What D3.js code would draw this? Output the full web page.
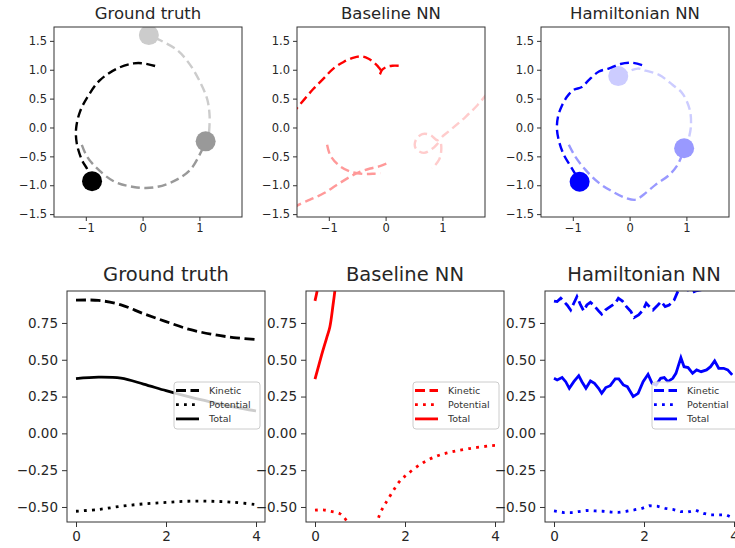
<!DOCTYPE html>
<html>
<head>
<meta charset="utf-8">
<script src="https://cdn.jsdelivr.net/npm/d3@7"></script>
<style>
  body { margin: 0; background: #fff; }
  svg { display: block; font-family: "DejaVu Sans", sans-serif; }
</style>
</head>
<body>
<svg width="735" height="548"></svg>
<script>
var panelTitles = ["Ground truth", "Baseline NN", "Hamiltonian NN"];
var legendLabels = ["Kinetic", "Potential", "Total"];
var orbitYTicks = [-1.5, -1, -0.5, 0, 0.5, 1, 1.5];
var orbitXTicks = [-1, 0, 1];
var energyYTicks = [-0.5, -0.25, 0, 0.25, 0.5, 0.75];
var energyXTicks = [0, 2, 4];

// top row: body trails [x, y], darkest body first
var gtTrailDark = [[0.22,1.065],[0.02,1.11],[-0.16,1.11],[-0.45,1.02],[-0.75,0.82],[-0.95,0.56],[-1.10,0.28],[-1.17,-0.01],[-1.16,-0.27],[-1.07,-0.56],[-0.97,-0.73],[-0.89,-0.93]];
var gtTrailMid = [[-1.07,-0.30],[-0.98,-0.50],[-0.81,-0.70],[-0.51,-0.93],[-0.16,-1.03],[0.19,-1.04],[0.55,-0.93],[0.84,-0.73],[1.02,-0.44],[1.11,-0.24]];
var gtTrailLight = [[1.17,-0.08],[1.18,0.19],[1.14,0.48],[1.02,0.77],[0.84,1.08],[0.61,1.34],[0.31,1.51],[0.11,1.60]];
var gtBodies = [[-0.89,-0.93],[1.11,-0.24],[0.11,1.60]];

var blTrailDark = [[0.23,1.07],[0.12,1.07],[0.02,1.05],[-0.06,1.0],[-0.1,0.92],[-0.08,0.97],[-0.12,1.04],[-0.2,1.12],[-0.3,1.19],[-0.42,1.23],[-0.56,1.21],[-0.74,1.135],[-0.92,1.02],[-1.09,0.85],[-1.27,0.67],[-1.42,0.50],[-1.62,0.27]];
var blTrailMidA = [[-1.62,-1.40],[-1.535,-1.34],[-1.33,-1.25],[-1.09,-1.14],[-0.86,-0.995],[-0.62,-0.85],[-0.445,-0.765],[-0.27,-0.71],[-0.10,-0.67],[0.03,-0.62]];
var blTrailMidB = [[-1.03,-0.30],[-0.975,-0.48],[-0.83,-0.65],[-0.62,-0.765],[-0.385,-0.805],[-0.2,-0.8],[-0.09,-0.79]];
var blTrailLight = [[1.79,0.59],[1.62,0.39],[1.41,0.185],[1.205,0.01],[1.03,-0.13],[0.91,-0.22],[0.79,-0.13],[0.645,-0.115],[0.53,-0.22],[0.53,-0.36],[0.675,-0.44],[0.85,-0.345],[0.96,-0.25],[0.98,-0.39],[0.94,-0.56],[0.82,-0.71]];

var hnnTrailDark = [[0.22,1.08],[0.05,1.12],[-0.16,1.10],[-0.37,1.02],[-0.54,0.97],[-0.72,0.82],[-0.84,0.70],[-0.985,0.65],[-1.10,0.535],[-1.20,0.36],[-1.26,0.19],[-1.28,-0.01],[-1.25,-0.21],[-1.16,-0.47],[-1.04,-0.67],[-0.93,-0.85],[-0.88,-0.94]];
var hnnTrailMid = [[-1.07,-0.30],[-0.96,-0.50],[-0.78,-0.73],[-0.54,-0.96],[-0.31,-1.105],[-0.07,-1.22],[0.11,-1.25],[0.25,-1.16],[0.46,-0.99],[0.70,-0.82],[0.86,-0.62],[0.96,-0.36]];
var hnnTrailLight = [[1.05,-0.155],[1.08,0.02],[1.06,0.305],[0.93,0.59],[0.755,0.74],[0.52,0.91],[0.28,0.985],[0.14,1.02],[-0.2,0.89]];
var hnnBodies = [[-0.88,-0.94],[0.96,-0.36],[-0.2,0.89]];

// bottom row: energy vs time
var gtTime = [0, 0.5, 1.0, 1.5, 2.0, 2.5, 3.0, 3.5, 4.0];
var gtKinetic = [0.905, 0.903, 0.873, 0.813, 0.759, 0.708, 0.674, 0.651, 0.637];
var gtPotential = [-0.529, -0.517, -0.495, -0.479, -0.469, -0.461, -0.461, -0.468, -0.484];
var gtTotal = [0.372, 0.382, 0.375, 0.335, 0.29, 0.249, 0.213, 0.18, 0.152];

var blKinTime = [0, 0.05, 0.1, 0.2];
var blKinetic = [0.90, 0.97, 1.05, 1.25];
var blPotTime = [0, 0.18, 0.36, 0.55, 0.67, 0.85, 1.0, 1.2, 1.39, 1.46, 1.55, 1.64, 1.87, 2.04, 2.37, 2.70, 3.03, 3.43, 3.88, 4.0];
var blPotential = [-0.522, -0.52, -0.53, -0.545, -0.58, -0.68, -0.75, -0.72, -0.59, -0.534, -0.484, -0.439, -0.33, -0.28, -0.205, -0.155, -0.126, -0.103, -0.085, -0.082];
var blTotTime = [0, 0.146, 0.255, 0.33, 0.40, 0.44, 0.5];
var blTotal = [0.368, 0.531, 0.644, 0.723, 0.870, 0.965, 1.15];

var hnnKinTime = [0, 0.07, 0.15, 0.22, 0.29, 0.37, 0.44, 0.51, 0.59, 0.66, 0.73, 0.81, 0.88, 0.99, 1.06, 1.14, 1.25, 1.36, 1.43, 1.52, 1.61, 1.71, 1.78, 1.88, 1.98, 2.05, 2.12, 2.20, 2.31, 2.38, 2.47, 2.56, 2.67, 2.75, 2.82, 2.97, 3.08, 3.15, 3.26, 3.40, 3.60, 3.96];
var hnnKinetic = [0.899, 0.895, 0.918, 0.895, 0.872, 0.838, 0.884, 0.929, 0.872, 0.832, 0.872, 0.890, 0.872, 0.832, 0.809, 0.838, 0.861, 0.884, 0.918, 0.899, 0.861, 0.827, 0.786, 0.804, 0.838, 0.884, 0.861, 0.838, 0.872, 0.895, 0.861, 0.872, 0.906, 0.963, 0.997, 0.974, 0.958, 0.967, 0.974, 1.0, 1.03, 1.05];
var hnnPotTime = [0, 0.22, 0.39, 0.55, 0.73, 0.92, 1.08, 1.26, 1.43, 1.61, 1.78, 1.96, 2.12, 2.29, 2.47, 2.64, 2.81, 2.98, 3.15, 3.32, 3.48, 3.66, 3.83, 3.96];
var hnnPotential = [-0.527, -0.538, -0.538, -0.531, -0.524, -0.527, -0.529, -0.534, -0.536, -0.529, -0.520, -0.509, -0.491, -0.495, -0.509, -0.516, -0.531, -0.534, -0.522, -0.543, -0.554, -0.554, -0.554, -0.572];
var hnnTotTime = [0, 0.07, 0.18, 0.26, 0.34, 0.44, 0.55, 0.62, 0.71, 0.81, 0.90, 0.99, 1.06, 1.15, 1.25, 1.36, 1.44, 1.54, 1.63, 1.76, 1.87, 1.98, 2.09, 2.18, 2.27, 2.37, 2.45, 2.53, 2.64, 2.71, 2.82, 2.89, 2.98, 3.08, 3.17, 3.27, 3.39, 3.48, 3.57, 3.66, 3.77, 3.86, 3.96];
var hnnTotal = [0.374, 0.363, 0.379, 0.351, 0.306, 0.351, 0.392, 0.351, 0.306, 0.356, 0.340, 0.306, 0.272, 0.311, 0.324, 0.370, 0.370, 0.329, 0.317, 0.250, 0.272, 0.351, 0.401, 0.340, 0.329, 0.374, 0.379, 0.351, 0.374, 0.408, 0.514, 0.453, 0.447, 0.408, 0.431, 0.419, 0.431, 0.453, 0.492, 0.442, 0.442, 0.431, 0.397];

var svg = d3.select("svg");
var fmt1 = d3.format(".1f"), fmt0 = d3.format("d"), fmt2 = d3.format(".2f");

// layout
var topLefts = [54, 297, 541], topY = 27, topW = 188, topH = 190;
var botLefts = [67, 306, 545], botY = 291, botW = 198, botH = 231;
var shades = {
  black: ["#000000", "#999999", "#cccccc"],
  red: ["#ff0000", "#ff9999", "#ffcccc"],
  blue: ["#0000ff", "#9999ff", "#ccccff"]
};

function styleAxis(sel, size) {
  sel.select(".domain").remove();
  sel.selectAll(".tick line").attr("stroke", "#333").attr("stroke-width", 1);
  sel.selectAll(".tick text").attr("fill", "#262626").style("font-size", size + "px")
    .style("font-family", "DejaVu Sans");
}

function frame(g, w, h, id) {
  g.append("clipPath").attr("id", id)
    .append("rect").attr("width", w).attr("height", h);
  return g.append("g").attr("clip-path", "url(#" + id + ")");
}

function drawOrbit(i, trails, bodies, pal) {
  var g = svg.append("g").attr("transform", "translate(" + topLefts[i] + "," + topY + ")");
  var x = d3.scaleLinear().domain([-1.56, 1.75]).range([0, topW]);
  var y = d3.scaleLinear().domain([-1.55, 1.74]).range([topH, 0]);
  var line = d3.line().x(function(d) { return x(d[0]); }).y(function(d) { return y(d[1]); })
    .curve(d3.curveCatmullRom);
  var inner = frame(g, topW, topH, "clipTop" + i);

  // lightest body first so the dark one ends up on top
  for (var k = 2; k >= 0; k--) {
    trails[k].forEach(function(tr) {
      inner.append("path").datum(tr)
        .attr("fill", "none").attr("stroke", pal[k])
        .attr("stroke-width", 2.4).attr("stroke-dasharray", "9,4.5")
        .attr("d", line);
    });
    if (bodies) {
      inner.append("circle")
        .attr("cx", x(bodies[k][0])).attr("cy", y(bodies[k][1]))
        .attr("r", 10).attr("fill", pal[k]);
    }
  }

  g.append("rect").attr("width", topW).attr("height", topH)
    .attr("fill", "none").attr("stroke", "#333").attr("stroke-width", 1);

  g.append("g").attr("transform", "translate(0," + topH + ")")
    .call(d3.axisBottom(x).tickValues(orbitXTicks).tickFormat(fmt0).tickSize(4).tickPadding(3))
    .call(styleAxis, 11.5);
  g.append("g")
    .call(d3.axisLeft(y).tickValues(orbitYTicks).tickFormat(fmt1).tickSize(4).tickPadding(3))
    .call(styleAxis, 11.5);

  g.append("text").attr("x", topW / 2).attr("y", -8)
    .attr("text-anchor", "middle").attr("fill", "#262626")
    .style("font-size", "16.5px").text(panelTitles[i]);
}

var styles = [
  { dash: "10,4.5" },
  { dash: "2.8,5.2" },
  { dash: null }
];

function drawEnergy(i, series, color, curve) {
  var g = svg.append("g").attr("transform", "translate(" + botLefts[i] + "," + botY + ")");
  var x = d3.scaleLinear().domain([-0.2, 4.2]).range([0, botW]);
  var y = d3.scaleLinear().domain([-0.602, 0.967]).range([botH, 0]);
  var inner = frame(g, botW, botH, "clipBot" + i);

  series.forEach(function(s, k) {
    var pts = s[0].map(function(t, j) { return [t, s[1][j]]; });
    var line = d3.line().x(function(d) { return x(d[0]); }).y(function(d) { return y(d[1]); }).curve(curve);
    inner.append("path").datum(pts)
      .attr("fill", "none").attr("stroke", color)
      .attr("stroke-width", 2.8)
      .attr("stroke-dasharray", styles[k].dash)
      .attr("d", line);
  });

  g.append("rect").attr("width", botW).attr("height", botH)
    .attr("fill", "none").attr("stroke", "#333").attr("stroke-width", 1);

  g.append("g").attr("transform", "translate(0," + botH + ")")
    .call(d3.axisBottom(x).tickValues(energyXTicks).tickFormat(fmt0).tickSize(5).tickPadding(4))
    .call(styleAxis, 13.5);
  g.append("g")
    .call(d3.axisLeft(y).tickValues(energyYTicks).tickFormat(fmt2).tickSize(5).tickPadding(4))
    .call(styleAxis, 13.5);

  g.append("text").attr("x", botW / 2).attr("y", -10)
    .attr("text-anchor", "middle").attr("fill", "#262626")
    .style("font-size", "19.5px").text(panelTitles[i]);

  // legend, center right
  var lg = g.append("g").attr("transform", "translate(" + (botW - 91) + ",91)");
  lg.append("rect").attr("width", 86).attr("height", 47).attr("rx", 3)
    .attr("fill", "#fff").attr("fill-opacity", 0.8)
    .attr("stroke", "#ccc").attr("stroke-width", 1);
  legendLabels.forEach(function(lab, k) {
    var yy = 8.5 + k * 14.2;
    lg.append("line").attr("x1", 2).attr("x2", 25).attr("y1", yy).attr("y2", yy)
      .attr("stroke", color).attr("stroke-width", 2.8)
      .attr("stroke-dasharray", styles[k].dash);
    lg.append("text").attr("x", 35).attr("y", yy).attr("dy", "0.35em")
      .attr("fill", "#333").style("font-size", "9.5px").text(lab);
  });
}

drawOrbit(0, [[gtTrailDark], [gtTrailMid], [gtTrailLight]], gtBodies, shades.black);
drawOrbit(1, [[blTrailDark], [blTrailMidA, blTrailMidB], [blTrailLight]], null, shades.red);
drawOrbit(2, [[hnnTrailDark], [hnnTrailMid], [hnnTrailLight]], hnnBodies, shades.blue);

drawEnergy(0, [[gtTime, gtKinetic], [gtTime, gtPotential], [gtTime, gtTotal]], "#000", d3.curveCatmullRom);
drawEnergy(1, [[blKinTime, blKinetic], [blPotTime, blPotential], [blTotTime, blTotal]], "#ff0000", d3.curveCatmullRom);
drawEnergy(2, [[hnnKinTime, hnnKinetic], [hnnPotTime, hnnPotential], [hnnTotTime, hnnTotal]], "#0000ff", d3.curveLinear);
</script>
</body>
</html>
